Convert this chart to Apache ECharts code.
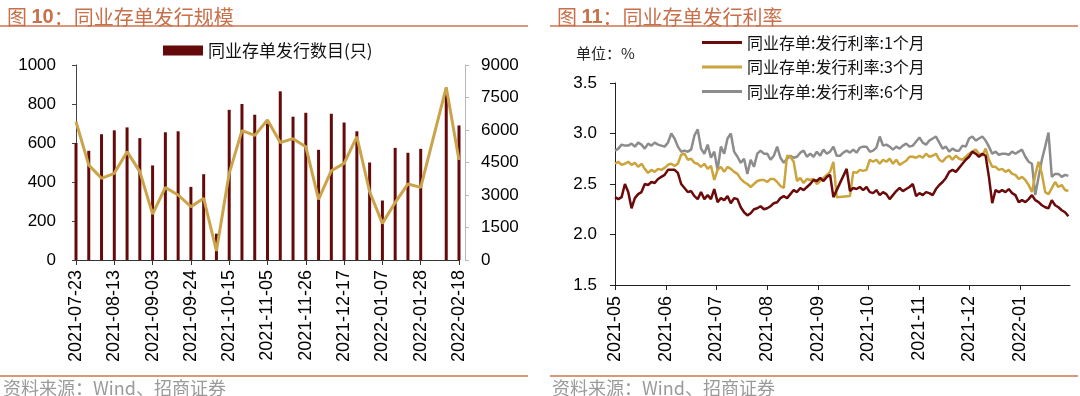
<!DOCTYPE html>
<html>
<head>
<meta charset="utf-8">
<title>同业存单发行规模与利率</title>
<script src="https://cdn.jsdelivr.net/npm/echarts@6/dist/echarts.min.js"></script>
<style>html,body{margin:0;padding:0;background:#fff;}</style>
</head>
<body>
<div id="main" style="width:1080px;height:396px;"></div>
<script type="text/javascript">
// 图10：每周发行
var weeks = ['2021-07-23','2021-07-30','2021-08-06','2021-08-13','2021-08-20','2021-08-27','2021-09-03','2021-09-10',
  '2021-09-17','2021-09-24','2021-10-01','2021-10-08','2021-10-15','2021-10-22','2021-10-29','2021-11-05','2021-11-12',
  '2021-11-19','2021-11-26','2021-12-03','2021-12-10','2021-12-17','2021-12-24','2021-12-31','2022-01-07','2022-01-14',
  '2022-01-21','2022-01-28','2022-02-04','2022-02-11','2022-02-18'];
var issueCount = [600, 560, 645, 665, 680, 625, 485, 655, 660, 375, 440, 135, 770, 800, 745, 700, 865, 735, 755, 565,
  750, 705, 660, 500, 305, 575, 550, 570, null, 875, 690];
var issueAmount = [6380, 4380, 3770, 4000, 5000, 4080, 2120, 3350, 3000, 2460, 2850, 420, 4000, 5970, 5750, 6460, 5420,
  5600, 5230, 2800, 4120, 4460, 5690, 3150, 1690, 2650, 3510, 3350, null, 7970, 4620];

// 图11：发行利率，2021-05-01 起每两天一个读数
var rateStart = [2021, 5, 1];
var rateStepDays = 2;
var rate1m = [2.37,2.35,2.37,2.50,2.42,2.26,2.36,2.40,2.42,2.50, 2.49,2.52,2.51,2.55,2.57,2.59,2.64,2.64,2.64,2.61,
  2.50,2.46,2.42,2.43,2.38,2.35,2.42,2.35,2.39,2.35, 2.45,2.32,2.36,2.34,2.38,2.31,2.36,2.35,2.27,2.22,
  2.19,2.21,2.25,2.26,2.28,
  2.25,2.26,2.28,2.31,2.32,2.36,2.38,2.36,2.40,2.44, 2.42,2.46,2.44,2.47,2.50,2.54,2.53,2.56,2.53,2.57,
  2.59,2.37,null,null,null,2.65,2.43,2.46,2.45,2.47, 2.44,2.47,2.42,2.41,2.44,2.39,2.42,2.40,2.35,2.39,
  2.43,2.46,2.43,2.45,2.47,2.50,
  2.38,2.41,2.39,2.42,2.41,2.39,2.45,2.49,2.52,2.56, 2.62,2.64,2.62,2.66,2.70,2.74,2.77,2.82,2.80,2.77,
  2.80,2.78,2.57,2.31,2.44,2.42,2.44,2.42,2.45,2.41, 2.39,2.32,2.34,2.32,2.35,2.39,2.34,2.32,2.29,2.27,
  2.26,2.34,2.29,2.27,2.24,2.22,2.18];
var rate3m = [2.70,2.72,2.69,2.70,2.72,2.69,2.71,2.67,2.70,2.65, 2.61,2.64,2.62,2.65,2.64,2.66,2.69,2.70,2.68,2.70,
  2.79,2.80,2.74,2.75,2.71,2.70,2.67,2.70,2.65,2.68, 2.54,2.64,2.67,2.62,2.67,2.65,2.62,2.60,2.55,2.52,
  2.50,2.47,2.50,2.53,2.54,
  2.54,2.52,2.55,2.55,2.52,2.48,2.46,2.78,2.77,2.72, 2.53,2.56,2.51,2.55,2.54,2.55,2.50,2.53,2.56,2.59,
  2.62,2.72,2.37,null,null,null,2.38,2.62,2.61,2.64, 2.63,2.64,2.74,2.72,2.74,2.70,2.74,2.72,2.75,2.70,
  2.74,2.69,2.71,2.73,2.77,2.77,
  2.76,2.78,2.76,2.80,2.77,2.78,2.80,2.74,2.72,2.76, 2.78,2.74,2.78,2.75,2.74,2.77,2.80,2.82,2.84,2.80,
  2.78,2.85,2.74,2.67,2.67,2.64,2.65,2.62,2.64,2.60, 2.59,2.55,2.57,2.54,2.49,2.42,2.59,2.72,2.60,2.42,
  2.40,2.46,2.52,2.47,2.49,2.44,2.43];
var rate6m = [2.83,2.85,2.89,2.88,2.88,2.90,2.87,2.91,2.89,2.85, 2.90,2.88,2.91,2.89,2.88,2.87,2.91,3.00,2.95,2.87,
  2.82,2.83,2.82,2.84,2.98,3.04,2.85,2.80,2.89,2.76, 2.82,2.64,2.87,2.80,2.95,3.00,2.82,2.77,2.71,2.75,
  2.60,2.74,2.67,2.80,2.83,
  2.80,2.80,2.74,2.78,2.87,2.76,2.71,2.75,2.78,2.76, 2.77,2.81,2.83,2.77,2.80,2.77,2.82,2.78,2.84,2.80,
  2.82,2.87,2.78,2.78,2.81,2.83,2.81,2.84,2.81,2.86, 2.87,2.87,2.82,2.83,2.86,2.97,2.88,2.89,2.87,2.84,
  2.87,2.85,2.88,2.90,2.87,2.88,
  2.92,2.96,2.91,2.89,2.93,2.95,2.97,2.91,2.85,2.87, 2.82,2.85,2.83,2.83,2.88,2.87,2.95,2.97,2.93,2.95,
  2.97,2.93,2.87,2.80,2.82,2.79,2.80,2.80,2.79,2.82, 2.80,2.82,2.84,2.77,2.72,2.70,2.39,2.57,2.74,2.87,
  3.01,2.57,2.60,2.60,2.57,2.59,2.58];
var rateMonths = ['2021-05','2021-06','2021-07','2021-08','2021-09','2021-10','2021-11','2021-12','2022-01'];
var rateEnd = [2022, 1, 31];

var chartDom = document.getElementById('main');
var myChart = echarts.init(chartDom);
var option;

var FONT = '"Liberation Sans", Arial, "Noto Sans CJK SC", sans-serif';
var CJK = '"Noto Sans CJK SC", "Liberation Sans", sans-serif';
var ruleColor = '#D9987A';
var titleColor = '#C8704A';

function dayTs(y, m, d) {
    return Date.UTC(y, m - 1, d);
}
function withDates(values) {
    return values.map(function (v, i) {
        return [dayTs(rateStart[0], rateStart[1], rateStart[2] + i * rateStepDays), v];
    });
}
var monthTs = rateMonths.map(function (s) {
    var p = s.split('-');
    return dayTs(+p[0], +p[1], 1);
});

function plain(v) { return String(v); }
var axisLabelStyle = { color: '#000', fontSize: 17, fontFamily: FONT };
var titleRich = {
    a: { fontSize: 20, color: titleColor, fontFamily: CJK, fontWeight: 'normal' },
    b: { fontSize: 20, color: titleColor, fontFamily: FONT, fontWeight: 'bold' }
};

option = {
    animation: false,
    backgroundColor: '#fff',
    title: [{
        text: '{a|图 }{b|10}{a|：同业存单发行规模}',
        left: 2, top: 2,
        textStyle: { rich: titleRich }
    }, {
        text: '{a|图 }{b|11}{a|：同业存单发行利率}',
        left: 552, top: 2,
        textStyle: { rich: titleRich }
    }],
    graphic: [
        { type: 'line', shape: { x1: 0, y1: 26, x2: 528, y2: 26 }, style: { stroke: ruleColor, lineWidth: 2 } },
        { type: 'line', shape: { x1: 550, y1: 26, x2: 1078, y2: 26 }, style: { stroke: ruleColor, lineWidth: 2 } },
        { type: 'line', shape: { x1: 0, y1: 376, x2: 528, y2: 376 }, style: { stroke: ruleColor, lineWidth: 2 } },
        { type: 'line', shape: { x1: 550, y1: 376, x2: 1078, y2: 376 }, style: { stroke: ruleColor, lineWidth: 2 } },
        { type: 'text', left: 3, top: 379, style: { text: '资料来源：Wind、招商证券', fill: '#9a9a9a', fontSize: 18, fontFamily: CJK } },
        { type: 'text', left: 552, top: 379, style: { text: '资料来源：Wind、招商证券', fill: '#9a9a9a', fontSize: 18, fontFamily: CJK } },
        { type: 'text', left: 576, top: 46, style: { text: '单位：%', fill: '#222', fontSize: 15, fontFamily: CJK } }
    ],
    legend: [{
        data: ['同业存单发行数目(只)'],
        left: 158, top: 37,
        icon: 'rect', itemWidth: 40, itemHeight: 10,
        textStyle: { fontSize: 17, color: '#111', fontFamily: CJK }
    }, {
        data: ['同业存单:发行利率:1个月', '同业存单:发行利率:3个月', '同业存单:发行利率:6个月'],
        orient: 'vertical',
        left: 697, top: 29,
        icon: 'rect', itemWidth: 40, itemHeight: 3, itemGap: 7.5,
        textStyle: { fontSize: 16, color: '#111', fontFamily: CJK, lineHeight: 17 }
    }],
    grid: [
        { left: 76, top: 65, width: 383, height: 195 },
        { left: 615, top: 83, width: 455, height: 202 }
    ],
    xAxis: [{
        gridIndex: 0,
        type: 'category',
        data: weeks,
        boundaryGap: false,
        axisLine: { lineStyle: { color: '#333', width: 1 } },
        axisTick: { interval: 2, length: 5, lineStyle: { color: '#333' } },
        axisLabel: { interval: 2, rotate: 90, margin: 10, fontSize: 18, color: '#000', fontFamily: FONT },
        splitLine: { show: false }
    }, {
        gridIndex: 1,
        type: 'value',
        min: dayTs(rateStart[0], rateStart[1], rateStart[2]),
        max: dayTs(rateEnd[0], rateEnd[1], rateEnd[2]),
        axisLine: { lineStyle: { color: '#222', width: 1 } },
        axisTick: { show: true, length: 5, customValues: monthTs, lineStyle: { color: '#222' } },
        axisLabel: {
            customValues: monthTs,
            rotate: 90, margin: 11, fontSize: 18, color: '#000', fontFamily: FONT,
            formatter: function (v) {
                var i = monthTs.indexOf(v);
                return i >= 0 ? rateMonths[i] : '';
            }
        },
        splitLine: { show: false }
    }],
    yAxis: [{
        gridIndex: 0,
        type: 'value',
        min: 0, max: 1000, interval: 200,
        axisLine: { show: true, lineStyle: { color: '#444' } },
        axisTick: { show: true, length: 4, lineStyle: { color: '#444' } },
        axisLabel: Object.assign({ margin: 20, formatter: plain }, axisLabelStyle),
        splitLine: { show: false }
    }, {
        gridIndex: 0,
        type: 'value',
        position: 'right',
        offset: 6,
        min: 0, max: 9000, interval: 1500,
        axisLine: { show: true, lineStyle: { color: '#b8b8b8' } },
        axisTick: { show: true, length: 4, lineStyle: { color: '#b8b8b8' } },
        axisLabel: Object.assign({ margin: 16, formatter: plain }, axisLabelStyle),
        splitLine: { show: false }
    }, {
        gridIndex: 1,
        type: 'value',
        min: 1.5, max: 3.5, interval: 0.5,
        axisLine: { show: true, lineStyle: { color: '#222' } },
        axisTick: { show: true, length: 5, lineStyle: { color: '#222' } },
        axisLabel: Object.assign({ margin: 18, formatter: function (v) { return v.toFixed(1); } }, axisLabelStyle),
        splitLine: { show: false }
    }],
    series: [{
        name: '同业存单发行数目(只)',
        type: 'bar',
        xAxisIndex: 0, yAxisIndex: 0,
        data: issueCount,
        barWidth: 3,
        itemStyle: { color: '#640A0A' }
    }, {
        name: '发行金额',
        type: 'line',
        xAxisIndex: 0, yAxisIndex: 1,
        data: issueAmount,
        showSymbol: false,
        connectNulls: true,
        lineStyle: { color: '#CBA34A', width: 3 },
        itemStyle: { color: '#CBA34A' }
    }, {
        name: '同业存单:发行利率:6个月',
        type: 'line',
        xAxisIndex: 1, yAxisIndex: 2,
        data: withDates(rate6m),
        showSymbol: false,
        connectNulls: true,
        lineStyle: { color: '#8C8C8C', width: 2.5 },
        itemStyle: { color: '#8C8C8C' }
    }, {
        name: '同业存单:发行利率:3个月',
        type: 'line',
        xAxisIndex: 1, yAxisIndex: 2,
        data: withDates(rate3m),
        showSymbol: false,
        connectNulls: true,
        lineStyle: { color: '#CCA43C', width: 2.5 },
        itemStyle: { color: '#CCA43C' }
    }, {
        name: '同业存单:发行利率:1个月',
        type: 'line',
        xAxisIndex: 1, yAxisIndex: 2,
        data: withDates(rate1m),
        showSymbol: false,
        connectNulls: true,
        lineStyle: { color: '#6B0A0A', width: 2.5 },
        itemStyle: { color: '#6B0A0A' }
    }]
};

option && myChart.setOption(option);
</script>
</body>
</html>
